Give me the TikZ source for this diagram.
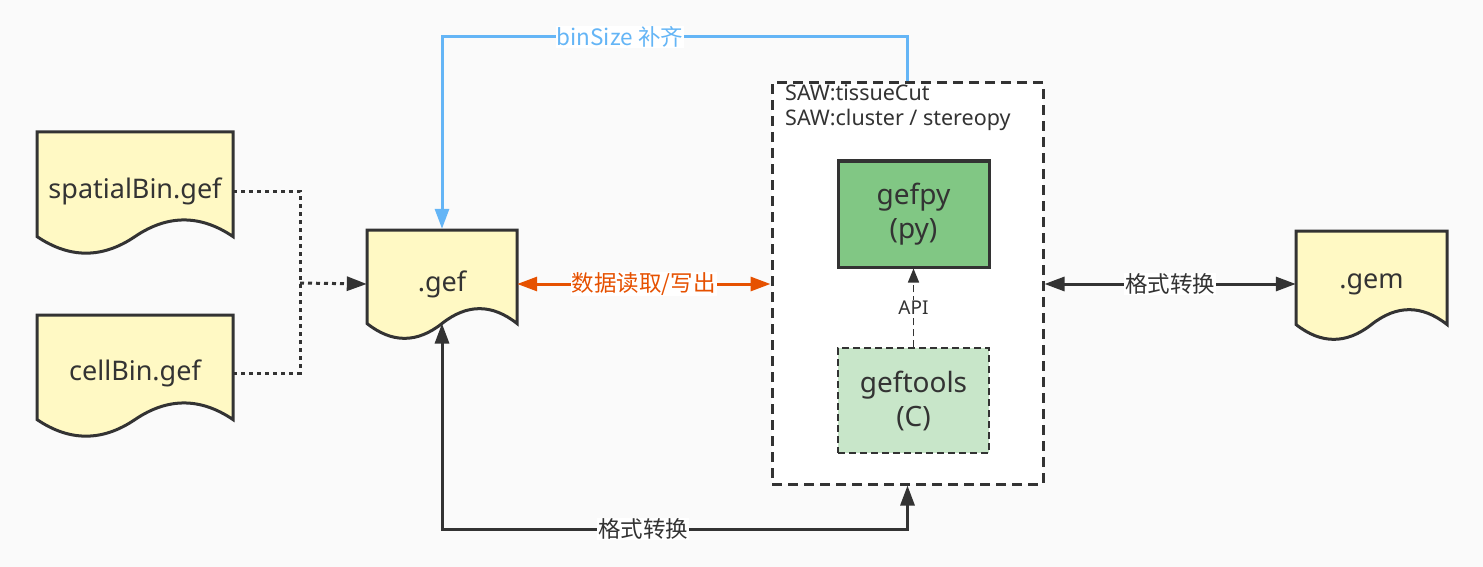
\documentclass[tikz,border=0pt]{standalone}
\usepackage{fontspec}
\setmainfont{Noto Sans}
\newfontfamily\cjk{Noto Sans CJK SC}
\usetikzlibrary{arrows.meta,calc}
\definecolor{bgc}{HTML}{FAFAFA}
\definecolor{ink}{HTML}{333333}
\definecolor{docfill}{HTML}{FFF9C4}
\definecolor{pyfill}{HTML}{81C784}
\definecolor{cfill}{HTML}{C8E6C9}
\definecolor{orangec}{HTML}{E65100}
\definecolor{bluec}{HTML}{64B5F6}
\newcommand\docshape[4]{%
  \filldraw[docline] (#1,#2) -- (#1+#3,#2) -- (#1+#3,#2+0.85*#4)
    .. controls (#1+0.8333*#3,#2+0.67*#4) and (#1+0.6667*#3,#2+0.67*#4) .. (#1+0.5*#3,#2+0.85*#4)
    .. controls (#1+0.3333*#3,#2+1.03*#4) and (#1+0.1667*#3,#2+1.03*#4) .. (#1,#2+0.85*#4) -- cycle;}
\tikzset{
  docline/.style={draw=ink, fill=docfill, line width=3pt, line join=miter},
  doctext/.style={inner sep=0pt, font=\fontsize{27}{30}\selectfont, text=ink},
  boxtext/.style={align=center, font=\fontsize{28}{34}\selectfont, text=ink},
  conn/.style={draw=ink, line width=3pt},
  tip/.style={-{Triangle[length=20pt,width=14pt]}},
  tips/.style={{Triangle[length=20pt,width=14pt]}-{Triangle[length=20pt,width=14pt]}},
  lbl/.style={fill=white, inner sep=1pt, font=\cjk\fontsize{22.5}{26}\selectfont},
}
\begin{document}
\begin{tikzpicture}[x=1pt,y=-1pt]
\fill[bgc] (0,0) rectangle (1483,567);
\useasboundingbox (0,0) rectangle (1483,567);

% documents
\docshape{37}{132}{196}{123}
\node[doctext, minimum width=196pt, minimum height=106pt] (sp) at (135,191) {spatialBin.gef};
\docshape{37}{315}{196}{123}
\node[doctext, minimum width=196pt, minimum height=106pt] (cb) at (135,373) {cellBin.gef};
\docshape{367}{230}{150}{110}
\node[doctext, minimum width=150pt, minimum height=110pt] (gef) at (442,284) {.gef};
\coordinate (gefbot) at (442,323.5);
\docshape{1296}{231}{151}{110}
\node[doctext, minimum width=151pt, minimum height=110pt] (gem) at (1371.5,284) {.gem};

% SAW container
\node[draw=ink, fill=white, line width=3pt, dash pattern=on 10pt off 6pt,
      minimum width=271pt, minimum height=401pt, inner sep=0pt] (saw) at (907.5,283.5) {};
\node[anchor=north west, align=left, inner sep=0pt, text=ink,
      font=\fontsize{21.5}{25}\selectfont] (sawlbl) at (785,84) {SAW:tissueCut\\SAW:cluster / stereopy};

\node[draw=ink, fill=pyfill, line width=3pt, minimum width=151pt, minimum height=106pt, boxtext] (gp) at (913.5,214) {gefpy\\(py)};
\node[draw=ink, fill=cfill, line width=1.5pt, dash pattern=on 7pt off 4pt, minimum width=151pt, minimum height=105pt, boxtext] (gt) at (913.5,400.5) {geftools\\(C)};

\draw[draw=ink, line width=1.5pt, dash pattern=on 7pt off 4pt, -{Triangle[length=14pt,width=11pt]}] (gt.north) -- node[fill=white, inner sep=1pt, text=ink, font=\fontsize{19}{22}\selectfont]{API} (gp.south);

% dotted merge
\coordinate (jn) at (300,283);
\draw[conn, dash pattern=on 4pt off 4pt] (sp.east) -| (jn);
\draw[conn, dash pattern=on 4pt off 4pt] (cb.east) -| (jn);
\draw[conn, dash pattern=on 4pt off 4pt, tip] (jn) -- (gef.west);

% orange read/write
\draw[draw=orangec, line width=3pt, tips, color=orangec] (gef.east) -- node[lbl, text=orangec]{数据读取/写出} (gef.east -| saw.west);

% blue binSize
\coordinate (b1) at (907.5,37);
\coordinate (b2) at (442,37);
\draw[draw=bluec, line width=3pt, color=bluec, tip] (saw.north) -- (b1) -- node[lbl, pos=0.618, text=bluec]{binSize 补齐} (b2) -- (gef.north);

% bottom conversion
\coordinate (k1) at (442,529);
\coordinate (k2) at (907.5,529);
\draw[conn, tips] (gefbot) -- (k1) -- node[lbl, pos=0.432, text=ink]{格式转换} (k2) -- (saw.south);

% gem conversion
\draw[conn, tips] (saw.east |- gem.west) -- node[lbl, text=ink]{格式转换} (gem.west);
\end{tikzpicture}
\end{document}
